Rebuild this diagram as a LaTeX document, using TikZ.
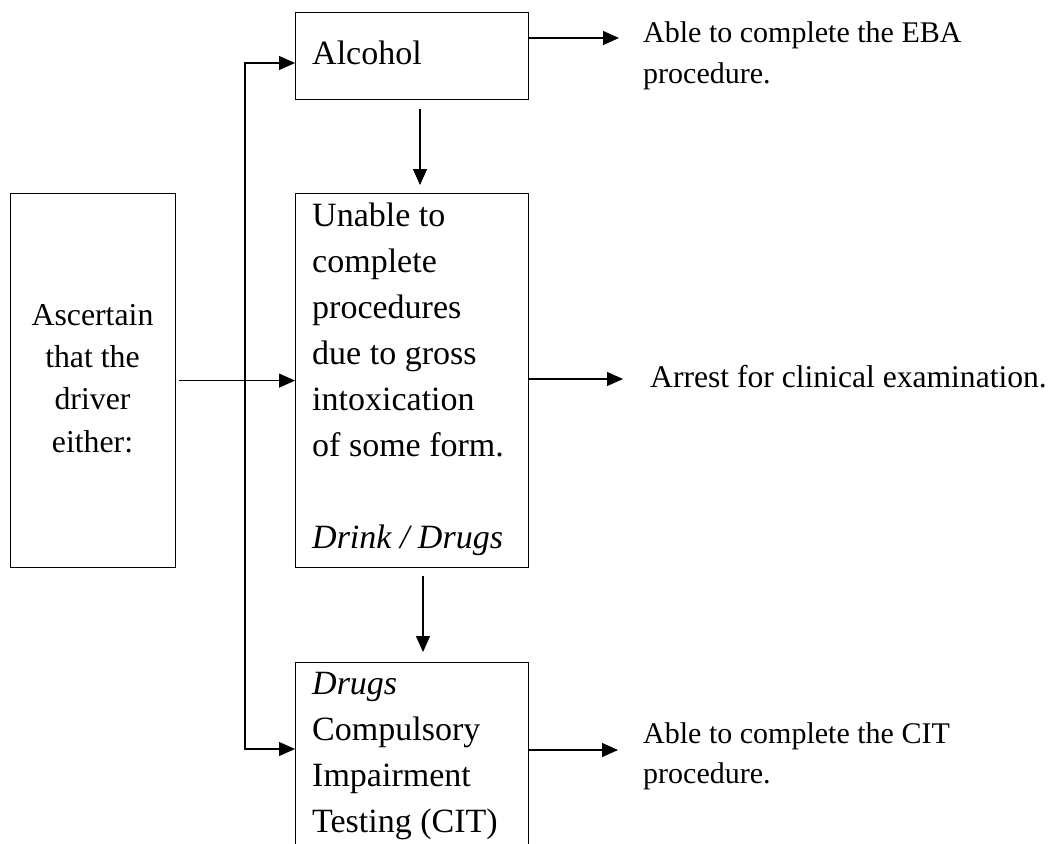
\documentclass[tikz,border=0pt]{standalone}
\usepackage{fontspec}
\setmainfont{Liberation Serif}
\usetikzlibrary{arrows.meta,calc}
\begin{document}
\begin{tikzpicture}[x=1pt,y=-1pt,
  box/.style={draw,line width=1.2pt,inner sep=0pt,anchor=north west},
  txt/.style={inner sep=0pt,anchor=base west,align=left},
  midfont/.style={font=\fontsize{34}{46}\selectfont},
  leftfont/.style={font=\fontsize{31.8}{42.3}\selectfont},
  rightfont/.style={font=\fontsize{30}{40}\selectfont},
  tip/.tip={Triangle[length=16pt,width=14pt]},
  arr/.style={line width=1.2pt,-tip},
  line/.style={line width=1.2pt}]
\useasboundingbox (0,0) rectangle (1051,843);
\clip (0,0) rectangle (1051,843);

% boxes
\node[box,minimum width=165pt,minimum height=374pt] (asc) at (10,193) {};
\node[box,minimum width=233pt,minimum height=87pt] (alc) at (295,12) {};
\node[box,minimum width=233pt,minimum height=374pt] (mid) at (295,193) {};
\node[box,minimum width=233pt,minimum height=220pt] (cit) at (295,662) {};

% box texts (base anchor = baseline of the last line)
\node[txt,midfont] (alct) at (312,64) {Alcohol};
\node[txt,midfont] (midt) at (312,548) {Unable to\\complete\\procedures\\due to gross\\intoxication\\of some form.\\[46pt]\textit{Drink / Drugs}};
\node[txt,midfont] (citt) at (312,832) {\textit{Drugs}\\Compulsory\\Impairment\\Testing (CIT)};
\node[inner sep=0pt,anchor=base,align=center,leftfont] (asct) at (92.5,452) {Ascertain\\that the\\driver\\either:};

% outcome texts
\node[txt,rightfont] (eba) at (643,83) {Able to complete the EBA\\procedure.};
\node[txt,font=\fontsize{31.6}{40}\selectfont] (arrest) at (650,387) {Arrest for clinical examination.};
\node[txt,rightfont] (cito) at (643,783) {Able to complete the CIT\\procedure.};

% connector end points
\coordinate (e1) at (619,38);
\coordinate (e2) at (623,379);
\coordinate (e3) at (618,750);
\coordinate (a1) at (245,63);
\coordinate (a2) at (245,749);

% outcome arrows
\draw[arr] (alc.east |- e1) -- (e1);
\draw[arr] (mid.east |- e2) -- (e2);
\draw[arr] (cit.east |- e3) -- (e3);

% from the left box
\draw[arr] ([xshift=3pt]asc.east) -- (mid.west);
\draw[line,tip-tip] (alc.west |- a1) -- (a1) -- (a2) -- (cit.west |- a2);

% vertical arrows
\draw[arr] ($(alc.south west)+(125,9)$) -- ($(mid.north west)+(125,-8)$);
\draw[arr] ($(mid.south west)+(128,8)$) -- ($(cit.north west)+(128,-10)$);
\end{tikzpicture}
\end{document}
